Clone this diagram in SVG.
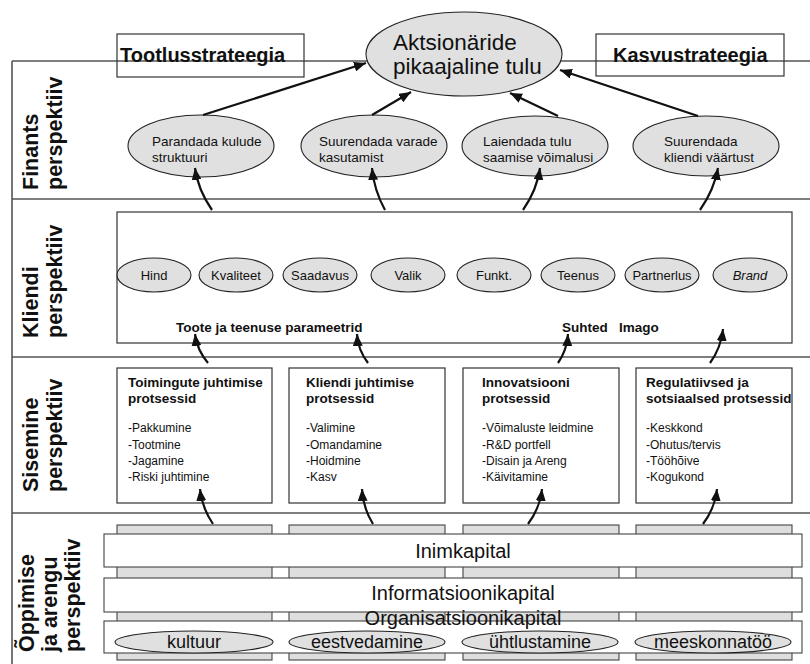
<svg xmlns="http://www.w3.org/2000/svg" width="810" height="664" viewBox="0 0 810 664">
  <defs>
    <marker id="head" viewBox="0 0 12 10" refX="12" refY="5" markerWidth="12" markerHeight="10" markerUnits="userSpaceOnUse" orient="auto">
      <path d="M0,0 L12,5 L0,10 z" fill="#111"/>
    </marker>
  </defs>
  <style>
    .frame { fill: none; stroke: #555; stroke-width: 1.6; }
    .box { fill: #fff; stroke: #333; stroke-width: 1.2; }
    .tbox { fill: none; stroke: #333; stroke-width: 1.2; }
    .oval { fill: #e0e0e0; stroke: #222; stroke-width: 1.1; }
    .col { fill: #dedede; stroke: #444; stroke-width: 1.1; }
    .bar { fill: #fff; stroke: #444; stroke-width: 1.1; }
    .conn { fill: none; stroke: #111; stroke-width: 2.2; marker-end: url(#head); }
    text { font-family: "Liberation Sans", Arial, sans-serif; fill: #111; }
    .side { font-size: 21.5px; font-weight: bold; }
    .strat { font-size: 20px; font-weight: bold; }
    .fin { font-size: 13.5px; }
    .cust { font-size: 13px; text-anchor: middle; }
    .lbl { font-size: 13.5px; font-weight: bold; }
    .ttl { font-size: 13.5px; font-weight: bold; }
    .item { font-size: 12px; }
    .cap { font-size: 20px; text-anchor: middle; }
    .org { font-size: 18px; text-anchor: middle; }
  </style>

  <!-- perspective bands -->
  <g id="bands">
    <line class="frame" x1="12" y1="61" x2="810" y2="61"/>
    <line class="frame" x1="12" y1="199" x2="810" y2="199"/>
    <line class="frame" x1="12" y1="357" x2="810" y2="357"/>
    <line class="frame" x1="12" y1="513" x2="810" y2="513"/>
    <line class="frame" x1="12" y1="61" x2="12" y2="664"/>
  </g>

  <!-- perspective titles -->
  <g id="titles">
    <text class="side" transform="translate(38,190) rotate(-90)">Finants</text>
    <text class="side" transform="translate(62,190) rotate(-90)">perspektiiv</text>
    <text class="side" transform="translate(38,338) rotate(-90)">Kliendi</text>
    <text class="side" transform="translate(62,338) rotate(-90)">perspektiiv</text>
    <text class="side" transform="translate(38,492) rotate(-90)">Sisemine</text>
    <text class="side" transform="translate(62,492) rotate(-90)">perspektiiv</text>
    <text class="side" transform="translate(34,652) rotate(-90)">Õppimise</text>
    <text class="side" transform="translate(57,652) rotate(-90)">ja arengu</text>
    <text class="side" transform="translate(80,652) rotate(-90)">perspektiiv</text>
  </g>

  <!-- strategies -->
  <g id="tootlusstrateegia">
    <rect class="tbox" x="117" y="34" width="187" height="43"/>
    <text class="strat" x="120" y="62">Tootlusstrateegia</text>
  </g>
  <g id="kasvustrateegia">
    <rect class="tbox" x="596" y="34" width="188" height="42"/>
    <text class="strat" x="613" y="62">Kasvustrateegia</text>
  </g>

  <!-- financial goal -->
  <g id="aktsionaride-tulu">
    <ellipse class="oval" cx="464" cy="54" rx="98" ry="42"/>
    <text x="393" y="50" font-size="22.5">Aktsionäride</text>
    <text x="393" y="74" font-size="22.5">pikaajaline tulu</text>
  </g>

  <g id="fin-kulud">
    <ellipse class="oval" cx="201" cy="146" rx="73" ry="31"/>
    <text class="fin" x="152" y="146">Parandada kulude</text>
    <text class="fin" x="152" y="162">struktuuri</text>
  </g>
  <g id="fin-varad">
    <ellipse class="oval" cx="374" cy="146" rx="73" ry="31"/>
    <text class="fin" x="319" y="146">Suurendada varade</text>
    <text class="fin" x="319" y="162">kasutamist</text>
  </g>
  <g id="fin-tulu">
    <ellipse class="oval" cx="535" cy="146" rx="73" ry="30"/>
    <text class="fin" x="483" y="146">Laiendada tulu</text>
    <text class="fin" x="483" y="162">saamise võimalusi</text>
  </g>
  <g id="fin-klient">
    <ellipse class="oval" cx="706" cy="146" rx="73" ry="30"/>
    <text class="fin" x="664" y="146">Suurendada</text>
    <text class="fin" x="664" y="162">kliendi väärtust</text>
  </g>

  <!-- customer value proposition -->
  <g id="kliendi-parameetrid">
    <rect class="box" x="117" y="212" width="675" height="131" fill="none"/>
    <g>
      <ellipse class="oval" cx="154" cy="275" rx="37" ry="17"/>
      <text class="cust" x="154" y="280">Hind</text>
      <ellipse class="oval" cx="236" cy="275" rx="37" ry="17"/>
      <text class="cust" x="236" y="280">Kvaliteet</text>
      <ellipse class="oval" cx="320" cy="275" rx="37" ry="17"/>
      <text class="cust" x="320" y="280">Saadavus</text>
      <ellipse class="oval" cx="408" cy="275" rx="37" ry="17"/>
      <text class="cust" x="408" y="280">Valik</text>
      <ellipse class="oval" cx="494" cy="275" rx="37" ry="17"/>
      <text class="cust" x="494" y="280">Funkt.</text>
      <ellipse class="oval" cx="578" cy="275" rx="37" ry="17"/>
      <text class="cust" x="578" y="280">Teenus</text>
      <ellipse class="oval" cx="662" cy="275" rx="37" ry="17"/>
      <text class="cust" x="662" y="280">Partnerlus</text>
      <ellipse class="oval" cx="750" cy="275" rx="37" ry="17"/>
      <text class="cust" x="750" y="280" font-style="italic">Brand</text>
    </g>
    <text class="lbl" x="176" y="332">Toote ja teenuse parameetrid</text>
    <text class="lbl" x="562" y="332" xml:space="preserve">Suhted   Imago</text>
  </g>

  <!-- internal processes -->
  <g id="toimingute-juhtimine">
    <rect class="box" x="117" y="368" width="155" height="135"/>
    <text class="ttl" x="128" y="387">Toimingute juhtimise</text>
    <text class="ttl" x="128" y="403">protsessid</text>
    <text class="item" x="128" y="432">-Pakkumine</text>
    <text class="item" x="128" y="449">-Tootmine</text>
    <text class="item" x="128" y="465">-Jagamine</text>
    <text class="item" x="128" y="481">-Riski juhtimine</text>
  </g>
  <g id="kliendi-juhtimine">
    <rect class="box" x="289" y="368" width="156" height="135"/>
    <text class="ttl" x="306" y="387">Kliendi juhtimise</text>
    <text class="ttl" x="306" y="403">protsessid</text>
    <text class="item" x="306" y="432">-Valimine</text>
    <text class="item" x="306" y="449">-Omandamine</text>
    <text class="item" x="306" y="465">-Hoidmine</text>
    <text class="item" x="306" y="481">-Kasv</text>
  </g>
  <g id="innovatsioon">
    <rect class="box" x="463" y="368" width="156" height="135"/>
    <text class="ttl" x="482" y="387">Innovatsiooni</text>
    <text class="ttl" x="482" y="403">protsessid</text>
    <text class="item" x="482" y="432">-Võimaluste leidmine</text>
    <text class="item" x="482" y="449">-R&amp;D portfell</text>
    <text class="item" x="482" y="465">-Disain ja Areng</text>
    <text class="item" x="482" y="481">-Käivitamine</text>
  </g>
  <g id="regulatiivsed">
    <rect class="box" x="636" y="368" width="156" height="135"/>
    <text class="ttl" x="646" y="387">Regulatiivsed ja</text>
    <text class="ttl" x="646" y="403">sotsiaalsed protsessid</text>
    <text class="item" x="646" y="432">-Keskkond</text>
    <text class="item" x="646" y="449">-Ohutus/tervis</text>
    <text class="item" x="646" y="465">-Tööhõive</text>
    <text class="item" x="646" y="481">-Kogukond</text>
  </g>

  <!-- learning and growth: columns behind the capital bars -->
  <g id="veerud">
    <rect class="col" x="117" y="525" width="155" height="135"/>
    <rect class="col" x="289" y="525" width="156" height="135"/>
    <rect class="col" x="463" y="525" width="156" height="135"/>
    <rect class="col" x="636" y="525" width="156" height="135"/>
  </g>
  <g id="inimkapital">
    <rect class="bar" x="104" y="534" width="698" height="33"/>
    <text class="cap" x="463" y="558">Inimkapital</text>
  </g>
  <g id="informatsioonikapital">
    <rect class="bar" x="104" y="578" width="698" height="34"/>
    <text class="cap" x="463" y="600">Informatsioonikapital</text>
  </g>
  <g id="organisatsioonikapital">
    <rect class="bar" x="104" y="621" width="698" height="32"/>
    <ellipse class="oval" cx="194" cy="642" rx="79" ry="11"/>
    <text class="org" x="194" y="648">kultuur</text>
    <ellipse class="oval" cx="367" cy="642" rx="78" ry="11"/>
    <text class="org" x="367" y="648">eestvedamine</text>
    <ellipse class="oval" cx="540" cy="642" rx="78" ry="11"/>
    <text class="org" x="540" y="648">ühtlustamine</text>
    <ellipse class="oval" cx="713" cy="642" rx="78" ry="11"/>
    <text class="org" x="713" y="648">meeskonnatöö</text>
    <text class="cap" x="463" y="625">Organisatsioonikapital</text>
  </g>

  <!-- connectors -->
  <g id="connectors">
    <line class="conn" x1="203" y1="115" x2="366" y2="63"/>
    <line class="conn" x1="372" y1="115" x2="411" y2="92"/>
    <line class="conn" x1="558" y1="116" x2="510" y2="93"/>
    <line class="conn" x1="698" y1="116" x2="560" y2="70"/>

    <path class="conn" d="M212,210 Q198,190 195,168"/>
    <path class="conn" d="M385,210 Q374,190 372,168"/>
    <path class="conn" d="M523,210 Q537,190 540,168"/>
    <path class="conn" d="M700,210 Q714,190 718,168"/>

    <path class="conn" d="M208,363 Q197,350 195,334"/>
    <path class="conn" d="M368,363 Q358,350 357,334"/>
    <path class="conn" d="M558,363 Q567,350 568,334"/>
    <path class="conn" d="M710,363 Q721,348 723,329"/>

    <path class="conn" d="M213,524 Q202,508 200,489"/>
    <path class="conn" d="M373,524 Q363,508 362,489"/>
    <path class="conn" d="M528,524 Q540,508 542,489"/>
    <path class="conn" d="M703,524 Q715,508 717,489"/>
  </g>
</svg>
